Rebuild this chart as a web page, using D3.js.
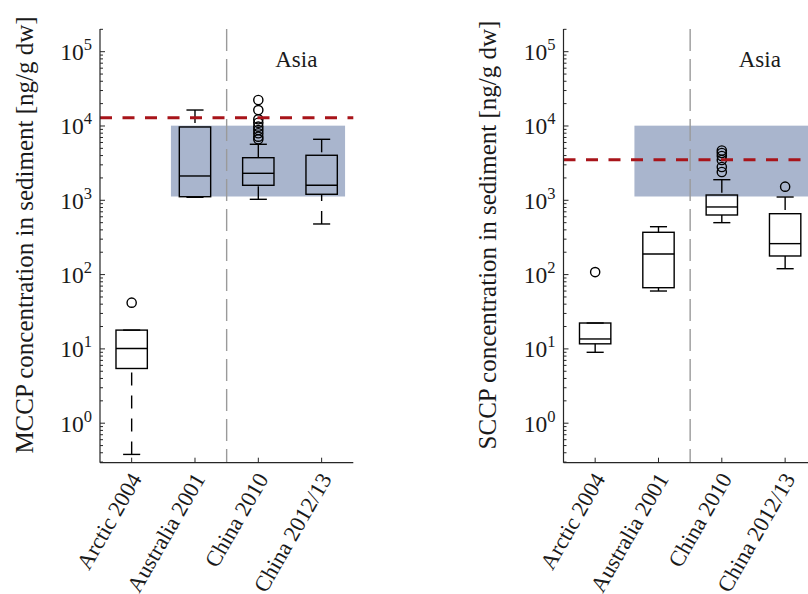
<!DOCTYPE html>
<html>
<head>
<meta charset="utf-8">
<script src="https://cdn.jsdelivr.net/npm/d3@7"></script>
<style>
  html, body { margin: 0; padding: 0; background: #fff; }
  svg { display: block; overflow: hidden; }
  text { font-family: "Liberation Serif", "Times New Roman", serif; fill: #1a1a1a; }
</style>
</head>
<body>
<svg id="chart" width="808" height="594"></svg>
<script>
// ---------- data ----------
const categories = ["Arctic 2004", "Australia 2001", "China 2010", "China 2012/13"];
const yTickExponents = [0, 1, 2, 3, 4, 5];

// MCCP (left panel) box statistics, ng/g dw
const mccpLowerWhisker = [0.38, 1097, 1031, 480];
const mccpQ1           = [5.45, 1117, 1592, 1205];
const mccpMedian       = [10.1, 2124, 2308, 1592];
const mccpQ3           = [17.9, 9700, 3743, 4035];
const mccpUpperWhisker = [17.9, 16400, 5673, 6622];
const mccpOutliers     = [[41.9], [], [22390, 16400, 12300, 11070, 9790, 8830, 7980, 7180, 6620], []];
const mccpReference    = 12940;

// SCCP (right panel) box statistics, ng/g dw
const sccpLowerWhisker = [9.0, 60.1, 500, 120];
const sccpQ1           = [11.7, 66.6, 634, 178];
const sccpMedian       = [13.6, 189, 813, 261];
const sccpQ3           = [22.3, 371, 1178, 660];
const sccpUpperWhisker = [22.3, 441, 1893, 1107];
const sccpOutliers     = [[108], [], [4680, 4330, 3950, 3486, 2805, 2404], [1525]];
const sccpReference    = 3520;

// Asia concentration range (shaded band) and its category span
const asiaRange = [1125, 10100];
const asiaSpan  = [1.62, 4.37];
const regionDivider = 2.5;
const regionLabel = "Asia";
const regionLabelPos = 3.6;

const panels = [
  { ylabel: "MCCP concentration in sediment [ng/g dw]", left: 100,
    low: mccpLowerWhisker, q1: mccpQ1, med: mccpMedian, q3: mccpQ3, high: mccpUpperWhisker,
    out: mccpOutliers, ref: mccpReference, ylabelX: 33 },
  { ylabel: "SCCP concentration in sediment [ng/g dw]", left: 563.5,
    low: sccpLowerWhisker, q1: sccpQ1, med: sccpMedian, q3: sccpQ3, high: sccpUpperWhisker,
    out: sccpOutliers, ref: sccpReference, ylabelX: 496 }
];

// ---------- layout ----------
const svg = d3.select("#chart");
const plotTop = 29, plotBottom = 462.7, plotW = 253.3;
const axisColor = "#262626";

const y = d3.scaleLog().domain([0.294, 2.02e5]).range([plotBottom, plotTop]);

panels.forEach(p => {
  const g = svg.append("g");
  const x = d3.scaleLinear().domain([0.5, 4.5]).range([p.left, p.left + plotW]);
  const bw = x(0.5 + 0.495) - x(0.5);  // box width
  const cw = x(0.5 + 0.27) - x(0.5);   // cap width

  // shaded Asia band
  g.append("rect")
    .attr("x", x(asiaSpan[0])).attr("width", x(asiaSpan[1]) - x(asiaSpan[0]))
    .attr("y", y(asiaRange[1])).attr("height", y(asiaRange[0]) - y(asiaRange[1]))
    .attr("fill", "#a9b5cd");

  // region divider
  g.append("line")
    .attr("x1", x(regionDivider)).attr("x2", x(regionDivider))
    .attr("y1", plotTop).attr("y2", plotBottom)
    .attr("stroke", "#9a9a9a").attr("stroke-width", 1.4)
    .attr("stroke-dasharray", "22,8");

  // boxes
  categories.forEach((c, i) => {
    const cx = x(i + 1);
    const bg = g.append("g");
    const dash = "13,10";
    if (y(p.low[i]) - y(p.q1[i]) > 0.5) {
      bg.append("line").attr("x1", cx).attr("x2", cx)
        .attr("y1", y(p.low[i])).attr("y2", y(p.q1[i]))
        .attr("stroke", "#000").attr("stroke-width", 1.4).attr("stroke-dasharray", dash);
    }
    if (y(p.q3[i]) - y(p.high[i]) > 0.5) {
      bg.append("line").attr("x1", cx).attr("x2", cx)
        .attr("y1", y(p.high[i])).attr("y2", y(p.q3[i]))
        .attr("stroke", "#000").attr("stroke-width", 1.4).attr("stroke-dasharray", dash);
    }
    [p.low[i], p.high[i]].forEach(v => {
      bg.append("line").attr("x1", cx - cw / 2).attr("x2", cx + cw / 2)
        .attr("y1", y(v)).attr("y2", y(v))
        .attr("stroke", "#000").attr("stroke-width", 1.4);
    });
    bg.append("rect")
      .attr("x", cx - bw / 2).attr("width", bw)
      .attr("y", y(p.q3[i])).attr("height", y(p.q1[i]) - y(p.q3[i]))
      .attr("fill", "none").attr("stroke", "#000").attr("stroke-width", 1.4);
    bg.append("line").attr("x1", cx - bw / 2).attr("x2", cx + bw / 2)
      .attr("y1", y(p.med[i])).attr("y2", y(p.med[i]))
      .attr("stroke", "#000").attr("stroke-width", 1.4);
    bg.selectAll("circle.o").data(p.out[i]).enter().append("circle")
      .attr("cx", cx).attr("cy", d => y(d)).attr("r", 4.6)
      .attr("fill", "none").attr("stroke", "#000").attr("stroke-width", 1.4);
  });

  // reference line
  g.append("line")
    .attr("x1", x(0.5)).attr("x2", x(4.5))
    .attr("y1", y(p.ref)).attr("y2", y(p.ref))
    .attr("stroke", "#a8141a").attr("stroke-width", 3)
    .attr("stroke-dasharray", "12,10.5");

  // region label
  g.append("text").attr("x", x(regionLabelPos)).attr("y", 67)
    .attr("text-anchor", "middle").attr("font-size", 23).text(regionLabel);

  // y axis
  const yAxis = g.append("g");
  yAxis.append("line").attr("x1", p.left).attr("x2", p.left)
    .attr("y1", plotTop).attr("y2", plotBottom).attr("stroke", axisColor).attr("stroke-width", 1.2);
  const [d0, d1] = y.domain();
  const minor = [];
  for (let e = -1; e <= 5; e++) {
    for (let m = 1; m <= 9; m++) {
      const v = m * Math.pow(10, e);
      if (v >= d0 && v <= d1) minor.push({ v, major: m === 1 });
    }
  }
  yAxis.selectAll("line.t").data(minor).enter().append("line")
    .attr("x1", p.left).attr("x2", d => p.left + (d.major ? 5 : 3))
    .attr("y1", d => y(d.v)).attr("y2", d => y(d.v))
    .attr("stroke", axisColor).attr("stroke-width", 1);
  const lbl = yAxis.selectAll("text.yl").data(yTickExponents).enter().append("text")
    .attr("x", p.left - 8).attr("y", d => y(Math.pow(10, d)) + 8.5)
    .attr("text-anchor", "end").attr("font-size", 23.5);
  lbl.append("tspan").text("10");
  lbl.append("tspan").attr("font-size", 16.5).attr("dy", -10).text(d => d);

  // y label
  g.append("text")
    .attr("transform", `translate(${p.ylabelX},${235}) rotate(-90)`)
    .attr("text-anchor", "middle").attr("font-size", 25).text(p.ylabel);

  // x axis
  g.append("line").attr("x1", p.left).attr("x2", p.left + plotW)
    .attr("y1", plotBottom).attr("y2", plotBottom).attr("stroke", axisColor).attr("stroke-width", 1.2);
  g.selectAll("line.xt").data(categories).enter().append("line")
    .attr("x1", (d, i) => x(i + 1)).attr("x2", (d, i) => x(i + 1))
    .attr("y1", plotBottom).attr("y2", plotBottom - 5)
    .attr("stroke", axisColor).attr("stroke-width", 1);
  g.selectAll("text.xl").data(categories).enter().append("text")
    .attr("transform", (d, i) => `translate(${x(i + 1) + 4},${plotBottom + 12}) rotate(-60)`)
    .attr("text-anchor", "end").attr("dy", "0.35em").attr("font-size", 22.5).text(d => d);
});
</script>
</body>
</html>
